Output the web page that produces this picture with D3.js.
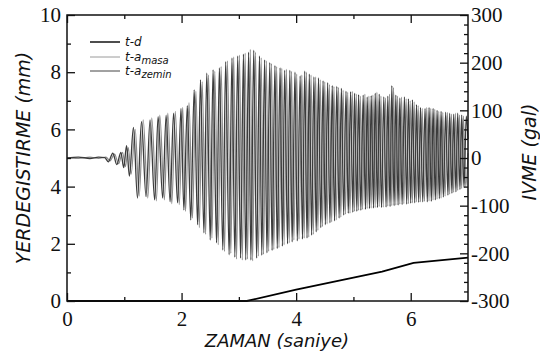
<!DOCTYPE html>
<html>
<head>
<meta charset="utf-8">
<script src="https://cdn.jsdelivr.net/npm/d3@7"></script>
<style>
  body { margin: 0; background: #fff; }
  svg { display: block; }
  .title { font-family: "DejaVu Sans", sans-serif; font-style: italic; font-size: 19px; fill: #111; }
  .leg { font-family: "DejaVu Sans", sans-serif; font-style: italic; font-size: 12px; fill: #111; }
  svg .tick text { font-family: "Liberation Serif", "Times New Roman", serif !important; font-size: 21px; }
</style>
</head>
<body>
<figure id="chart" style="margin:0"></figure>
<script>
// t-d : displacement (mm)
const dispT = [0, 3.14, 4.0, 5.0, 5.5, 6.05, 7.0];
const dispD = [0, 0, 0.4, 0.82, 1.03, 1.33, 1.52];

// t-a zemin : extremum times (s) and accelerations (gal)
const zeminT = [0, 0.2, 0.4, 0.55, 0.66, 0.72, 0.80, 0.87, 0.94, 0.99, 1.04, 1.09,
  1.16, 1.23, 1.30, 1.38, 1.45, 1.53, 1.59, 1.67, 1.73, 1.80, 1.86, 1.93, 1.99,
  2.04, 2.10, 2.16, 2.22, 2.28, 2.33, 2.39, 2.44, 2.50, 2.55, 2.61, 2.66, 2.72, 2.77, 2.83, 2.88, 2.93, 2.98,
  3.03, 3.08, 3.12, 3.17, 3.21, 3.26, 3.31, 3.36, 3.40, 3.45, 3.49, 3.54, 3.58, 3.63, 3.67, 3.72, 3.76, 3.80, 3.85, 3.89, 3.93, 3.98, 4.02, 4.07,
  4.11, 4.15, 4.19, 4.23, 4.27, 4.31, 4.35, 4.39, 4.43, 4.47, 4.51, 4.55, 4.59, 4.63, 4.67, 4.71, 4.75, 4.79, 4.83, 4.87, 4.91, 4.95, 4.99,
  5.02, 5.06, 5.09, 5.13, 5.17, 5.21, 5.24, 5.28, 5.31, 5.35, 5.38, 5.42, 5.45, 5.49, 5.53, 5.57, 5.60, 5.64, 5.67, 5.71, 5.74, 5.78, 5.81, 5.85, 5.89, 5.93, 5.96,
  6.00, 6.03, 6.07, 6.10, 6.14, 6.17, 6.21, 6.25, 6.29, 6.32, 6.36, 6.39, 6.43, 6.46, 6.50, 6.53, 6.57, 6.61, 6.65, 6.68, 6.72, 6.75, 6.79, 6.82, 6.86, 6.89, 6.93, 6.97, 7.0];
const zeminA = [0, 2, -1, 2, 1, -8, 10, -14, 12, -20, 26, -38,
  64, -84, 76, -81, 80, -88, 87, -84, 90, -92, 94, -94, 104,
  -109, 110, -130, 143, -140, 164, -157, 178, -172, 185, -178, 189, -193, 202, -203, 210, -208, 214,
  -210, 218, -214, 222, -214, 226, -210, 214, -204, 206, -199, 200, -194, 194, -190, 189, -185, 184, -180, 184, -176, 180, -174, 172,
  -170, 182, -168, 176, -162, 170, -155, 168, -146, 162, -140, 158, -136, 152, -132, 150, -126, 146, -120, 140, -116, 139, -114,
  136, -112, 133, -110, 132, -108, 128, -106, 131, -105, 136, -104, 134, -104, 128, -103, 130, -102, 152, -100, 132, -99, 126, -98, 128, -97, 124,
  -95, 122, -94, 112, -93, 106, -92, 104, -92, 106, -91, 104, -88, 100, -85, 98, -82, 96, -78, 94, -74, 92, -71, 94, -66, 90, -62, 88, 40];

// t-a masa : extremum times (s) and accelerations (gal)
const masaT = [0, 0.2, 0.4, 0.55, 0.68, 0.75, 0.83, 0.90, 0.97, 1.02, 1.07, 1.12,
  1.19, 1.26, 1.33, 1.41, 1.48, 1.56, 1.62, 1.70, 1.76, 1.83, 1.89, 1.96, 2.02,
  2.07, 2.13, 2.19, 2.25, 2.31, 2.36, 2.42, 2.47, 2.53, 2.58, 2.64, 2.69, 2.75, 2.80, 2.86, 2.91, 2.96, 3.01,
  3.06, 3.11, 3.15, 3.20, 3.24, 3.29, 3.34, 3.39, 3.43, 3.48, 3.52, 3.57, 3.61, 3.66, 3.70, 3.75, 3.79, 3.83, 3.88, 3.92, 3.96, 4.01, 4.05, 4.10,
  4.14, 4.18, 4.22, 4.26, 4.30, 4.34, 4.38, 4.42, 4.46, 4.50, 4.54, 4.58, 4.62, 4.66, 4.70, 4.74, 4.78, 4.82, 4.86, 4.90, 4.94, 4.98,
  5.02, 5.05, 5.09, 5.12, 5.16, 5.20, 5.24, 5.27, 5.31, 5.34, 5.38, 5.41, 5.45, 5.48, 5.52, 5.56, 5.60, 5.63, 5.67, 5.70, 5.74, 5.77, 5.81, 5.84, 5.88, 5.92, 5.96, 5.99,
  6.03, 6.06, 6.10, 6.13, 6.17, 6.20, 6.24, 6.28, 6.32, 6.35, 6.39, 6.42, 6.46, 6.49, 6.53, 6.56, 6.60, 6.64, 6.68, 6.71, 6.75, 6.78, 6.82, 6.85, 6.89, 6.92, 6.96, 7.0];
const masaA = [0, -1, 2, -1, 2, -6, 8, -12, 12, -18, 22, -34,
  60, -80, 80, -84, 84, -90, 90, -88, 94, -96, 98, -98, 106,
  -112, 116, -126, 140, -146, 160, -160, 174, -168, 182, -182, 192, -196, 204, -200, 212, -212, 216,
  -214, 220, -212, 228, -216, 222, -206, 210, -202, 204, -196, 198, -192, 192, -188, 188, -182, 186, -178, 182, -172, 176, -170, 174,
  -168, 180, -166, 174, -160, 170, -152, 164, -144, 160, -138, 154, -134, 150, -130, 148, -124, 142, -118, 138, -116, 140,
  -112, 134, -110, 130, -108, 134, -106, 130, -105, 132, -104, 138, -102, 130, -103, 126, -101, 134, -100, 148, -99, 130, -97, 128, -96, 124, -96, 120,
  -94, 118, -92, 110, -92, 104, -91, 106, -90, 104, -88, 102, -86, 98, -84, 96, -80, 96, -76, 92, -72, 94, -68, 90, -64, 88, -60, 10];

const xTicks = [0, 2, 4, 6];
const xMinor = [1, 3, 5];
const leftTicks = [0, 2, 4, 6, 8, 10];
const leftMinor = [1, 3, 5, 7, 9];
const rightTicks = [-300, -200, -100, 0, 100, 200, 300];
const rightMinor = [-280, -260, -240, -220, -180, -160, -140, -120, -80, -60, -40, -20,
  20, 40, 60, 80, 120, 140, 160, 180, 220, 240, 260, 280];

const W = 540, H = 356;
const L = 67, R = 468, T = 15, B = 301;

const svg = d3.select("#chart").append("svg").attr("width", W).attr("height", H);

const x = d3.scaleLinear().domain([0, 7]).range([L, R]);
const yL = d3.scaleLinear().domain([0, 10]).range([B, T]);
const yR = d3.scaleLinear().domain([-300, 300]).range([B, T]);

// acceleration traces
const accLine = d3.line().x(d => x(d[0])).y(d => yR(d[1])).curve(d3.curveMonotoneX);
svg.append("path")
  .attr("d", accLine(masaT.map((t, i) => [t, masaA[i]])))
  .attr("fill", "none").attr("stroke", "#8c8c8c").attr("stroke-width", 1.2);
svg.append("path")
  .attr("d", accLine(zeminT.map((t, i) => [t, zeminA[i]])))
  .attr("fill", "none").attr("stroke", "#3c3c3c").attr("stroke-width", 1.3);

// displacement
const dLine = d3.line().x(d => x(d[0])).y(d => yL(d[1]));
svg.append("path")
  .attr("d", dLine(dispT.map((t, i) => [t, dispD[i]])))
  .attr("fill", "none").attr("stroke", "#000").attr("stroke-width", 1.8);

// axes, ticks inward
function styleAxis(g) {
  g.attr("font-family", null).attr("font-size", null);
  g.select(".domain").remove();
  g.selectAll(".tick line").attr("stroke", "#111").attr("stroke-width", 1.3);
  g.selectAll(".tick text").attr("fill", "#111")
    .style("font-family", "'Liberation Serif', 'Times New Roman', serif");
}
svg.append("g").attr("transform", `translate(${L},0)`)
  .call(d3.axisLeft(yL).tickValues(leftTicks).tickSizeInner(-8).tickSizeOuter(0).tickPadding(6).tickFormat(d => d))
  .call(styleAxis);
svg.append("g").attr("transform", `translate(${L},0)`)
  .call(d3.axisLeft(yL).tickValues(leftMinor).tickSizeInner(-4).tickSizeOuter(0).tickFormat(""))
  .call(styleAxis);
svg.append("g").attr("transform", `translate(${R},0)`)
  .call(d3.axisRight(yR).tickValues(rightTicks).tickSizeInner(-8).tickSizeOuter(0).tickPadding(3).tickFormat(d => String(d)))
  .call(styleAxis);
svg.append("g").attr("transform", `translate(${R},0)`)
  .call(d3.axisRight(yR).tickValues(rightMinor).tickSizeInner(-4).tickSizeOuter(0).tickFormat(""))
  .call(styleAxis);
svg.append("g").attr("transform", `translate(0,${B})`)
  .call(d3.axisBottom(x).tickValues(xTicks).tickSizeInner(-8).tickSizeOuter(0).tickPadding(10).tickFormat(d => d))
  .call(styleAxis);
svg.append("g").attr("transform", `translate(0,${B})`)
  .call(d3.axisBottom(x).tickValues(xMinor).tickSizeInner(-4).tickSizeOuter(0).tickFormat(""))
  .call(styleAxis);
svg.append("g").attr("transform", `translate(0,${T})`)
  .call(d3.axisTop(x).tickValues(xTicks).tickSizeInner(-8).tickSizeOuter(0).tickFormat(""))
  .call(styleAxis);
svg.append("g").attr("transform", `translate(0,${T})`)
  .call(d3.axisTop(x).tickValues(xMinor).tickSizeInner(-4).tickSizeOuter(0).tickFormat(""))
  .call(styleAxis);

// frame
svg.append("rect").attr("x", L).attr("y", T).attr("width", R - L).attr("height", B - T)
  .attr("fill", "none").attr("stroke", "#111").attr("stroke-width", 1.5);

// titles
svg.append("text").attr("class", "title").attr("text-anchor", "middle")
  .attr("transform", `translate(30,158) rotate(-90)`).text("YERDEGISTIRME (mm)");
svg.append("text").attr("class", "title").attr("text-anchor", "middle")
  .attr("transform", `translate(536,152) rotate(-90)`).text("IVME (gal)");
svg.append("text").attr("class", "title").attr("text-anchor", "middle")
  .attr("x", 277).attr("y", 347).style("font-size", "18px").text("ZAMAN (saniye)");

// legend
const legRows = [
  { y: 42, stroke: "#000", w: 1.4, main: "t-d", sub: "" },
  { y: 57, stroke: "#9a9a9a", w: 1, main: "t-a", sub: "masa" },
  { y: 71, stroke: "#444", w: 1, main: "t-a", sub: "zemin" }
];
const leg = svg.append("g");
legRows.forEach(r => {
  leg.append("line").attr("x1", 90).attr("x2", 120).attr("y1", r.y).attr("y2", r.y)
    .attr("stroke", r.stroke).attr("stroke-width", r.w);
  const t = leg.append("text").attr("class", "leg").attr("x", 125).attr("y", r.y + 4);
  t.append("tspan").text(r.main);
  if (r.sub) t.append("tspan").attr("dy", 3).style("font-size", "10px").text(r.sub);
});
</script>
</body>
</html>
